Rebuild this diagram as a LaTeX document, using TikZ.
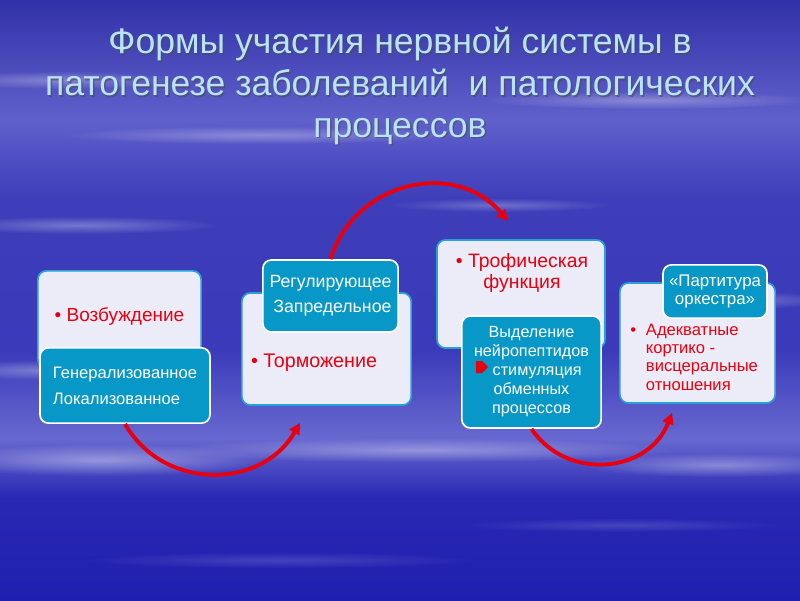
\documentclass[tikz,border=0pt]{standalone}
\usepackage{fontspec}
\setmainfont{Liberation Sans}
\usetikzlibrary{arrows.meta,calc,fadings,shapes.arrows}
\definecolor{boxFill}{RGB}{236,236,248}
\definecolor{boxLine}{RGB}{40,160,216}
\definecolor{tealFill}{RGB}{8,152,200}
\definecolor{alarmRed}{RGB}{232,0,16}
\definecolor{titleBlue}{RGB}{184,228,255}
\definecolor{skyA}{RGB}{32,32,176}
\definecolor{skyB}{RGB}{40,40,180}
\definecolor{skyC}{RGB}{104,104,208}
\definecolor{skyD}{RGB}{58,58,186}
\definecolor{skyE}{RGB}{62,62,186}
\definecolor{skyF}{RGB}{96,96,204}
\definecolor{skyG}{RGB}{50,50,168}
\pgfdeclareverticalshading{skyShade}{100bp}{color(0bp)=(skyA); color(25bp)=(skyA); color(33.5bp)=(skyB);
  color(38.5bp)=(skyC); color(46bp)=(skyD); color(58.5bp)=(skyE); color(65bp)=(skyF);
  color(75bp)=(skyG); color(100bp)=(skyG)}
\tikzfading[name=softOut,inner color=transparent!0,outer color=transparent!100]

\begin{document}
\begin{tikzpicture}
[x=0.025cm,y=0.025cm,
  lightBox/.style={draw=boxLine,line width=1.2pt,fill=boxFill,rounded corners=6pt,inner sep=0pt},
  tealBox/.style={draw=white,line width=1.2pt,fill=tealFill,rounded corners=6pt,inner sep=0pt,text=white},
  redText/.style={text=alarmRed,inner sep=0pt},
  streak/.style={fill=white,path fading=softOut},
  arcArrow/.style={draw=alarmRed,line width=2.8pt,-{Triangle[length=8pt,width=8pt]}}]
\useasboundingbox (0,0) rectangle (800,600);
% sky
\begin{scope}
\clip (0,0) rectangle (800,600);
\shade[shading=skyShade] (0,0) rectangle (800,600);
\foreach \cx/\cy/\rx/\ry/\op in {100/140/170/16/.4, 420/150/260/12/.35, 720/135/140/12/.35,
  80/375/140/9/.3, 60/520/120/9/.3, 260/465/200/9/.3, 650/500/170/9/.3, 730/300/110/9/.3,
  500/395/110/7/.25, 280/40/200/8/.15, 620/75/160/7/.15, 40/230/90/10/.3}
  \fill[streak,opacity=\op] (\cx,\cy) ellipse ({\rx} and {\ry});
\end{scope}
% title
\node[text=black!70,opacity=.6,align=center,font=\fontsize{25.3}{29.8}\selectfont]
  (titleShade) at (401.5,512.5) {Формы участия нервной системы в\\патогенезе заболеваний \ и патологических\\процессов};
\node[text=titleBlue,align=center,font=\fontsize{25.3}{29.8}\selectfont]
  (title) at (400,514) {Формы участия нервной системы в\\патогенезе заболеваний \ и патологических\\процессов};
% boxes
\node[lightBox,minimum width=4.08cm,minimum height=2.43cm] (vozb) at (119.5,280.5) {};
\node[redText,font=\fontsize{13.5}{16}\selectfont] (vozbText) at ($(vozb)+(0,3)$) {• Возбуждение};
\node[tealBox,minimum width=4.25cm,minimum height=1.88cm,align=left,
  font=\fontsize{11.8}{18.4}\selectfont] (gen) at (125,214.5) {Генерализованное\\Локализованное};
\node[lightBox,minimum width=4.23cm,minimum height=2.8cm] (torm) at (326.5,251) {};
\node[redText,font=\fontsize{14}{16}\selectfont] (tormText) at ($(torm)+(-12.5,-14)$) {• Торможение};
\node[tealBox,minimum width=3.38cm,minimum height=1.8cm,align=right,
  font=\fontsize{12.6}{17.7}\selectfont] (reg) at (330.5,304) {Регулирующее\\Запредельное};
\node[lightBox,minimum width=4.2cm,minimum height=2.7cm] (trof) at (521,306) {};
\node[redText,align=center,font=\fontsize{13.8}{15.6}\selectfont] (trofText) at ($(trof)+(1,21)$)
  {• Трофическая\\функция};
\node[tealBox,minimum width=3.48cm,minimum height=2.8cm,align=center,
  font=\fontsize{11.5}{13.5}\selectfont] (neuro) at (531.5,228)
  {Выделение\\нейропептидов\\\hspace*{8pt}стимуляция\\обменных\\процессов};
\node[single arrow,fill=alarmRed,minimum height=0.3cm,minimum width=0.3cm,
  single arrow head extend=0pt,inner sep=0pt] (stimMark) at (479,233) {};
\node[lightBox,minimum width=3.88cm,minimum height=3cm] (adeq) at (697.5,257) {};
\node[redText,anchor=west,font=\fontsize{11.8}{13.1}\selectfont] (adeqText) at (630,241)
  {\begin{tabular}{@{}l@{\hspace{7pt}}l@{}}•&Адекватные\\&кортико -\\&висцеральные\\&отношения\end{tabular}};
\node[tealBox,minimum width=2.6cm,minimum height=1.33cm,align=center,
  font=\fontsize{12}{12.2}\selectfont] (orch) at (715,308.5) {«Партитура\\оркестра»};
% arcs
\coordinate (tormIn) at ($(torm.south)+(-26.5,-17)$);
\coordinate (trofIn) at ($(trof.north)+(-13,18)$);
\coordinate (adeqIn) at ($(adeq.south)+(-25.5,-9)$);
\path
\foreach \startNode/\endNode/\outAngle/\inAngle/\loose in {
  gen.south/tormIn/-60/-120/1.13, reg.north/trofIn/73/130/1.15,
  neuro.south/adeqIn/-56/-111/1.16}
{
  (\startNode) edge[arcArrow,out=\outAngle,in=\inAngle,looseness=\loose] (\endNode)
};
\end{tikzpicture}
\end{document}
